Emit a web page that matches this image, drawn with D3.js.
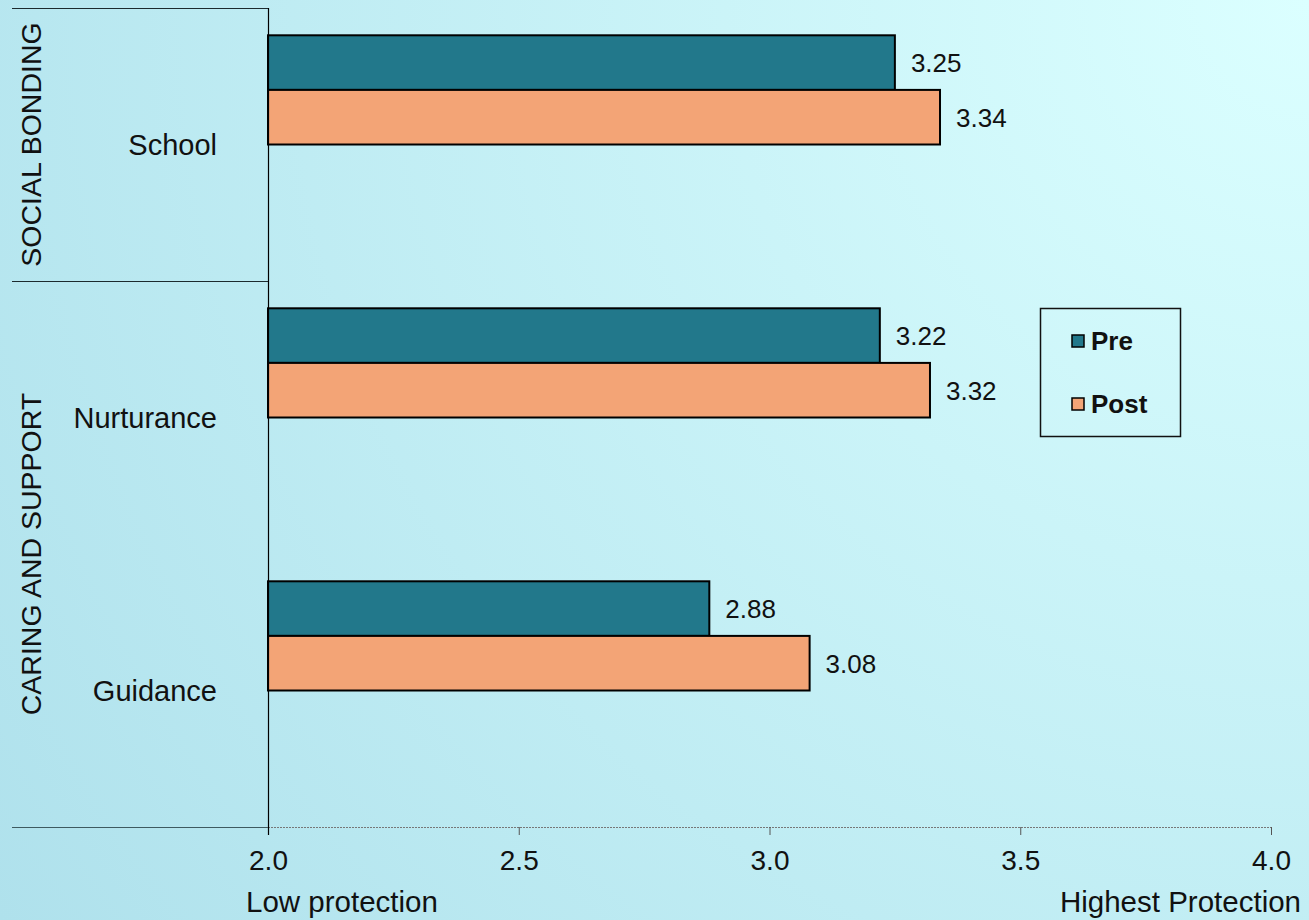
<!DOCTYPE html>
<html>
<head>
<meta charset="utf-8">
<script src="https://cdn.jsdelivr.net/npm/d3@7/dist/d3.min.js"></script>
<style>
  html, body { margin: 0; padding: 0; }
  svg { display: block; font-family: "Liberation Sans", Arial, sans-serif; }
</style>
</head>
<body>
<svg id="chart" width="1309" height="920"></svg>
<script>
// Protective factor scores, pre and post
const categories = ["School", "Nurturance", "Guidance"];
const groups = [
  { name: "SOCIAL BONDING", members: ["School"] },
  { name: "CARING AND SUPPORT", members: ["Nurturance", "Guidance"] }
];
const seriesNames = ["Pre", "Post"];
const preValues = [3.25, 3.22, 2.88];
const postValues = [3.34, 3.32, 3.08];
const xTicks = [2.0, 2.5, 3.0, 3.5, 4.0];
const xEndLabels = ["Low protection", "Highest Protection"];

const colors = { Pre: "#22788b", Post: "#f3a476" };
const FONT = "Liberation Sans, Arial, sans-serif";

const svg = d3.select("#chart");
const W = 1309, H = 920;

// background: light cyan glow from the top-right corner
const defs = svg.append("defs");
const grad = defs.append("radialGradient")
  .attr("id", "bg").attr("gradientUnits", "userSpaceOnUse")
  .attr("cx", W).attr("cy", 0).attr("r", 1600);
grad.append("stop").attr("offset", "0%").attr("stop-color", "#dbffff");
grad.append("stop").attr("offset", "100%").attr("stop-color", "#afe1ec");
svg.append("rect").attr("width", W).attr("height", H).attr("fill", "url(#bg)");

const plot = { left: 268, right: 1271, top: 8, bottom: 827 };
const leftEdge = 12;

const x = d3.scaleLinear().domain([2, 4]).range([plot.left, plot.right]);
const y = d3.scaleBand().domain(categories).range([plot.top, plot.bottom]).padding(0);
// four slots per category; the two series fill the first two
const slot = d3.scaleBand().domain([0, 1, 2, 3]).range([0, y.bandwidth()]).paddingOuter(0.5).paddingInner(0);

const rows = categories.map((c, i) => ({ cat: c, values: [preValues[i], postValues[i]] }));

// bars and value labels
const g = svg.append("g");
rows.forEach(r => {
  r.values.forEach((v, si) => {
    const by = y(r.cat) + slot(si);
    g.append("rect")
      .attr("x", x(2)).attr("y", by)
      .attr("width", x(v) - x(2)).attr("height", slot.bandwidth())
      .attr("fill", colors[seriesNames[si]])
      .attr("stroke", "#000").attr("stroke-width", 2);
    g.append("text")
      .attr("x", x(v) + 16).attr("y", by + slot.bandwidth() / 2)
      .attr("dy", "0.36em").attr("font-size", 26).attr("fill", "#111")
      .text(v.toFixed(2));
  });
});

// x axis: dotted baseline with downward ticks
const axis = svg.append("g").attr("transform", `translate(0,${plot.bottom})`)
  .call(d3.axisBottom(x).tickValues(xTicks).tickSize(8).tickFormat(d3.format(".1f")));
axis.select(".domain").attr("stroke", "#777").attr("stroke-dasharray", "2,1").attr("d", `M${plot.left},0.5H${plot.right}`);
axis.selectAll(".tick line").attr("stroke", "#555");
axis.selectAll(".tick text").attr("font-size", 28).attr("fill", "#111").attr("dy", 0).attr("y", 43)
  .attr("font-family", FONT);

svg.append("text").attr("x", plot.left - 22).attr("y", 912).attr("font-size", 29.5).attr("fill", "#111")
  .text(xEndLabels[0]);
svg.append("text").attr("x", 1301).attr("y", 912).attr("font-size", 29.5).attr("fill", "#111")
  .attr("text-anchor", "end").text(xEndLabels[1]);

// vertical axis line
svg.append("line").attr("x1", plot.left + 0.5).attr("x2", plot.left + 0.5)
  .attr("y1", plot.top).attr("y2", plot.bottom + 8).attr("stroke", "#000").attr("stroke-width", 1.2);

// category labels
categories.forEach(c => {
  svg.append("text").attr("x", 217).attr("y", y(c) + y.bandwidth() / 2)
    .attr("dy", "0.36em").attr("text-anchor", "end").attr("font-size", 29).attr("fill", "#111").text(c);
});

// group dividers and rotated group labels
const boundaries = [plot.top];
groups.forEach(gr => {
  const last = gr.members[gr.members.length - 1];
  boundaries.push(y(last) + y.bandwidth());
});
boundaries.forEach((b, i) => {
  svg.append("line").attr("x1", leftEdge).attr("x2", plot.left)
    .attr("y1", Math.round(b) + 0.5).attr("y2", Math.round(b) + 0.5)
    .attr("stroke", i === boundaries.length - 1 ? "#3e5a60" : "#1c2a2e").attr("stroke-width", 1.2);
});
groups.forEach(gr => {
  const top = y(gr.members[0]);
  const bot = y(gr.members[gr.members.length - 1]) + y.bandwidth();
  const cy = (top + bot) / 2;
  svg.append("text").attr("transform", `translate(41,${cy}) rotate(-90)`)
    .attr("text-anchor", "middle").attr("font-size", 28.5).attr("fill", "#111").text(gr.name);
});

// legend
const lg = svg.append("g").attr("transform", "translate(1040,308)");
lg.append("rect").attr("x", 0.5).attr("y", 0.5).attr("width", 140).attr("height", 128)
  .attr("fill", "none").attr("stroke", "#111").attr("stroke-width", 1.5);
seriesNames.forEach((s, i) => {
  const ly = 33 + i * 63;
  lg.append("rect").attr("x", 32).attr("y", ly - 6).attr("width", 12).attr("height", 12)
    .attr("fill", colors[s]).attr("stroke", "#000").attr("stroke-width", 1.5);
  lg.append("text").attr("x", 51).attr("y", ly).attr("dy", "0.36em")
    .attr("font-size", 26).attr("font-weight", "bold").attr("fill", "#111").text(s);
});
</script>
</body>
</html>
